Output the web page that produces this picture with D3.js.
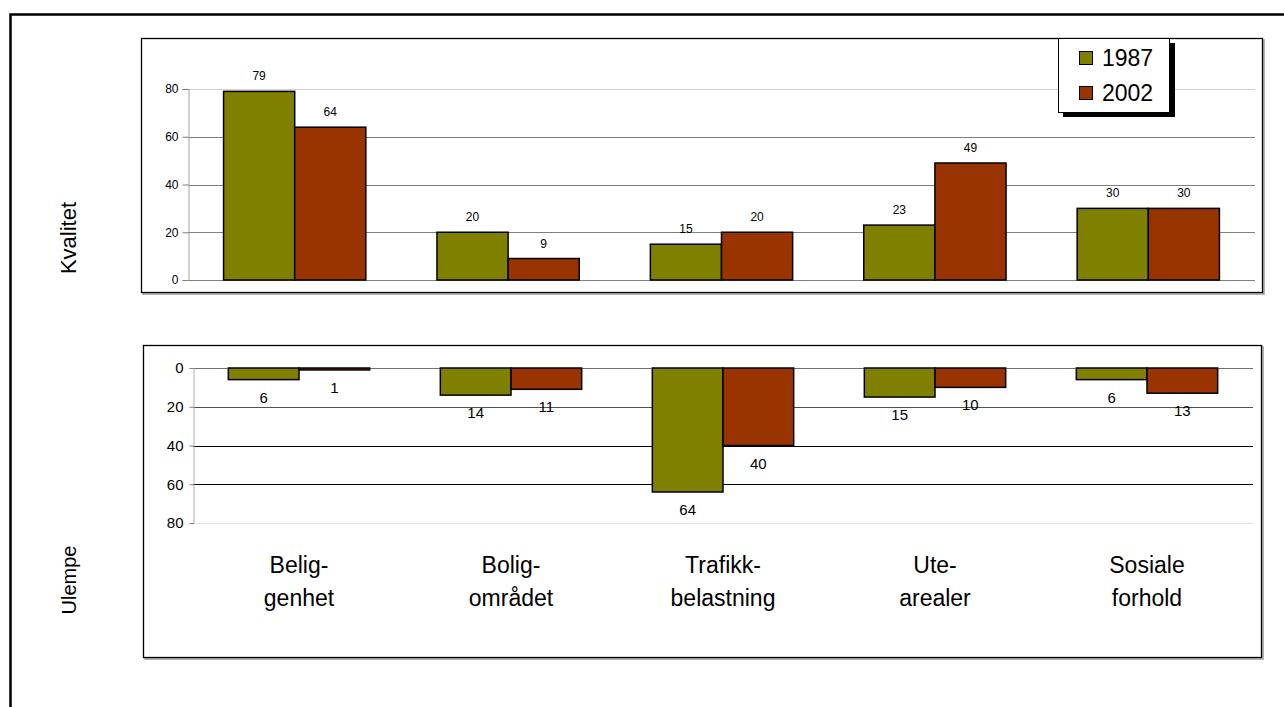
<!DOCTYPE html>
<html>
<head>
<meta charset="utf-8">
<script src="https://cdn.jsdelivr.net/npm/d3@7"></script>
<style>
  html, body { margin: 0; padding: 0; background: #fff; }
  svg { display: block; font-family: "Liberation Sans", Arial, sans-serif; }
</style>
</head>
<body>
<svg id="chart" width="1284" height="707"></svg>
<script>
// Categories (two-line labels) and series values
const categories = ["Belig-\ngenhet", "Bolig-\nområdet", "Trafikk-\nbelastning", "Ute-\narealer", "Sosiale\nforhold"];
const seriesNames = ["1987", "2002"];
const kvalitet1987 = [79, 20, 15, 23, 30];
const kvalitet2002 = [64, 9, 20, 49, 30];
const ulempe1987 = [6, 14, 64, 15, 6];
const ulempe2002 = [1, 11, 40, 10, 13];
const yTicks = [0, 20, 40, 60, 80];
const colors = ["#808000", "#993300"];

const svg = d3.select("#chart");

// Outer frame
svg.append("rect").attr("x", 10.5).attr("y", 14.5).attr("width", 1300).attr("height", 720)
  .attr("fill", "none").attr("stroke", "#000").attr("stroke-width", 2.5);

// Panel frames with light right/bottom shadow
function panel(x, y, w, h) {
  svg.append("rect").attr("x", x + 1.5).attr("y", y + 1.5).attr("width", w).attr("height", h)
    .attr("fill", "none").attr("stroke", "#999").attr("stroke-width", 1.5);
  svg.append("rect").attr("x", x).attr("y", y).attr("width", w).attr("height", h)
    .attr("fill", "#fff").attr("stroke", "#000").attr("stroke-width", 1.3);
}
panel(141.5, 38.5, 1121, 254);
panel(143.5, 345.5, 1118, 312);

const keys = [0, 1];

// ---------- Upper chart: Kvalitet ----------
const xTop = d3.scaleBand().domain(d3.range(categories.length)).range([188, 1255]).paddingInner(1/3).paddingOuter(1/6);
const xTopInner = d3.scaleBand().domain(keys).range([0, xTop.bandwidth()]);
const yTop = d3.scaleLinear().domain([0, 80]).range([280, 89]);

const gTop = svg.append("g");
// gridlines
gTop.selectAll("line.grid").data(yTicks).join("line")
  .attr("x1", 188).attr("x2", 1255)
  .attr("y1", d => Math.round(yTop(d)) + 0.5).attr("y2", d => Math.round(yTop(d)) + 0.5)
  .attr("stroke", d => d === 80 ? "#d0d0d0" : "#808080").attr("stroke-width", 1.2);

// y axis
const axTop = gTop.append("g").attr("transform", "translate(188.5,0)")
  .call(d3.axisLeft(yTop).tickValues(yTicks).tickSize(6).tickPadding(4).tickFormat(d3.format("d")));
axTop.select(".domain").attr("stroke", "#a0a0a0");
axTop.selectAll(".tick line").attr("stroke", "#808080");
axTop.selectAll(".tick text").attr("font-size", 12).attr("fill", "#000")
  .attr("font-family", "Liberation Sans, Arial, sans-serif");

const topData = [kvalitet1987, kvalitet2002];
categories.forEach((c, i) => {
  const g = gTop.append("g").attr("transform", `translate(${xTop(i)},0)`);
  keys.forEach(k => {
    const v = topData[k][i];
    g.append("rect")
      .attr("x", xTopInner(k)).attr("y", yTop(v))
      .attr("width", xTopInner.bandwidth()).attr("height", yTop(0) - yTop(v))
      .attr("fill", colors[k]).attr("stroke", "#000").attr("stroke-width", 1.5);
    g.append("text")
      .attr("x", xTopInner(k) + xTopInner.bandwidth() / 2).attr("y", yTop(v) - 11)
      .attr("text-anchor", "middle").attr("font-size", 12).text(v);
  });
});

// Legend
const lg = svg.append("g");
lg.append("rect").attr("x", 1063).attr("y", 43).attr("width", 112).attr("height", 74).attr("fill", "#000");
lg.append("rect").attr("x", 1058.5).attr("y", 38.5).attr("width", 111).attr("height", 74)
  .attr("fill", "#fff").attr("stroke", "#000").attr("stroke-width", 1);
seriesNames.forEach((s, k) => {
  const cy = 58 + k * 35;
  lg.append("rect").attr("x", 1079.5).attr("y", cy - 6.5).attr("width", 13).attr("height", 13)
    .attr("fill", colors[k]).attr("stroke", "#000").attr("stroke-width", 1);
  lg.append("text").attr("x", 1102).attr("y", cy + 8).attr("font-size", 23).text(s);
});

// ---------- Lower chart: Ulempe ----------
const xBot = d3.scaleBand().domain(d3.range(categories.length)).range([193, 1253]).paddingInner(1/3).paddingOuter(1/6);
const xBotInner = d3.scaleBand().domain(keys).range([0, xBot.bandwidth()]);
const yBot = d3.scaleLinear().domain([0, 80]).range([368, 523]);

const gBot = svg.append("g");
gBot.selectAll("line.grid").data(yTicks).join("line")
  .attr("x1", 193).attr("x2", 1253)
  .attr("y1", d => Math.round(yBot(d)) + 0.5).attr("y2", d => Math.round(yBot(d)) + 0.5)
  .attr("stroke", d => d === 80 ? "#e0e0e0" : (d === 0 ? "#707070" : (d === 20 ? "#505050" : "#000")))
  .attr("stroke-width", 1.2);

const axBot = gBot.append("g").attr("transform", "translate(193.5,0)")
  .call(d3.axisLeft(yBot).tickValues(yTicks).tickSize(4).tickPadding(6).tickFormat(d3.format("d")));
axBot.select(".domain").attr("stroke", "#b0b0b0");
axBot.selectAll(".tick line").attr("stroke", "#808080");
axBot.selectAll(".tick text").attr("font-size", 15).attr("fill", "#000")
  .attr("font-family", "Liberation Sans, Arial, sans-serif");

const botData = [ulempe1987, ulempe2002];
categories.forEach((c, i) => {
  const g = gBot.append("g").attr("transform", `translate(${xBot(i)},0)`);
  keys.forEach(k => {
    const v = botData[k][i];
    g.append("rect")
      .attr("x", xBotInner(k)).attr("y", yBot(0))
      .attr("width", xBotInner.bandwidth()).attr("height", yBot(v) - yBot(0))
      .attr("fill", colors[k]).attr("stroke", "#000").attr("stroke-width", 1.5);
    g.append("text")
      .attr("x", xBotInner(k) + xBotInner.bandwidth() / 2).attr("y", yBot(v) + 23)
      .attr("text-anchor", "middle").attr("font-size", 15).text(v);
  });
});

// Category labels
categories.forEach((c, i) => {
  const cx = xBot(i) + xBot.bandwidth() / 2;
  const t = svg.append("text").attr("x", cx).attr("y", 573)
    .attr("text-anchor", "middle").attr("font-size", 23);
  c.split("\n").forEach((line, j) => {
    t.append("tspan").attr("x", cx).attr("dy", j === 0 ? 0 : 33).text(line);
  });
});

// Axis titles
svg.append("text").attr("transform", "translate(76,238) rotate(-90)")
  .attr("text-anchor", "middle").attr("font-size", 22).text("Kvalitet");
svg.append("text").attr("transform", "translate(76,580) rotate(-90)")
  .attr("text-anchor", "middle").attr("font-size", 20).text("Ulempe");
</script>
</body>
</html>
